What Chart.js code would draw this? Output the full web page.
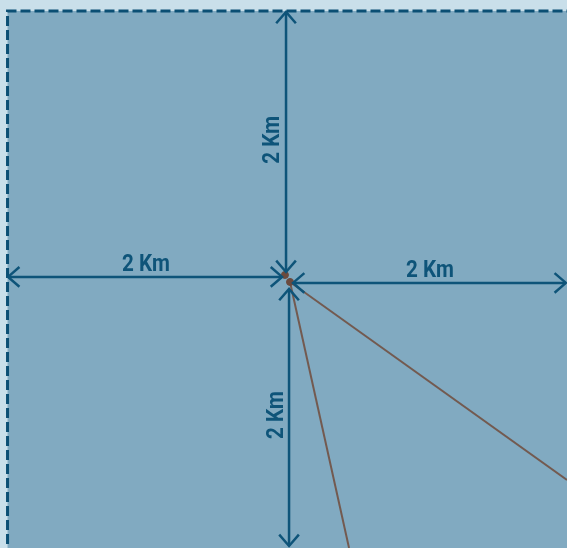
<!DOCTYPE html>
<html><head><meta charset="utf-8">
<script src="https://cdn.jsdelivr.net/npm/chart.js@4.4.1/dist/chart.umd.min.js"></script>
<style>html,body{margin:0;padding:0;background:#c9dfea;overflow:hidden}canvas{display:block}</style>
</head><body>
<canvas id="c" width="567" height="548"></canvas>
<script>
// Coordinates in km, origin at the site point
const xRange = [-2.095, 2.044];
const yRange = [-1.964, 2.036];
const regionTopLeft = [-2.04, 1.956];
const arrowUp    = [[-0.007, 0.051], [-0.007, 1.949]];
const arrowLeft  = [[-0.036, 0.015], [-2.036, 0.015]];
const arrowRight = [[0.044, -0.029], [2.036, -0.029]];
const arrowDown  = [[0.015, -0.073], [0.015, -1.949]];
const labelTexts = ['2 Km', '2 Km', '2 Km', '2 Km'];
const labelPos   = [[-0.109, 1.015], [-1.029, 0.109], [1.044, 0.066], [-0.080, -0.993]];
const labelRot   = [true, false, false, true];
const sitePoints = [[-0.015, 0.029], [0.022, -0.022]];
const rayA = [[0.022, -0.022], [2.044, -1.467]];
const rayB = [[0.022, -0.022], [0.453, -1.964]];

const BLUE = '#0e5479', BROWN = '#735a50';
const pts = a => a.map(p => ({x: p[0], y: p[1]}));
const arrows = [arrowUp, arrowLeft, arrowRight, arrowDown];

const bgPlugin = {
  id: 'bg',
  beforeDatasetsDraw(chart) {
    const {ctx, scales: {x, y}} = chart;
    const l = x.getPixelForValue(regionTopLeft[0]), t = y.getPixelForValue(regionTopLeft[1]);
    ctx.save();
    ctx.fillStyle = '#81aac1';
    ctx.fillRect(l, t, chart.width - l + 10, chart.height - t + 10);
    ctx.strokeStyle = '#0b4f74'; ctx.lineWidth = 3; ctx.setLineDash([10, 4]);
    ctx.beginPath(); ctx.moveTo(l, chart.height + 10); ctx.lineTo(l, t); ctx.lineTo(chart.width + 10, t); ctx.stroke();
    ctx.restore();
  },
  afterDatasetsDraw(chart) {
    const {ctx, scales: {x, y}} = chart;
    ctx.save();
    ctx.strokeStyle = BLUE; ctx.lineWidth = 2.5; ctx.lineCap = 'butt';
    arrows.forEach(a => {
      const p0 = [x.getPixelForValue(a[0][0]), y.getPixelForValue(a[0][1])];
      const p1 = [x.getPixelForValue(a[1][0]), y.getPixelForValue(a[1][1])];
      [[p0, p1], [p1, p0]].forEach(([tip, from]) => {
        const ang = Math.atan2(from[1] - tip[1], from[0] - tip[0]);
        const L = 15, s = Math.PI / 4.4;
        ctx.beginPath();
        ctx.moveTo(tip[0] + L * Math.cos(ang + s), tip[1] + L * Math.sin(ang + s));
        ctx.lineTo(tip[0], tip[1]);
        ctx.lineTo(tip[0] + L * Math.cos(ang - s), tip[1] + L * Math.sin(ang - s));
        ctx.stroke();
      });
    });
    ctx.fillStyle = BLUE;
    ctx.font = 'bold 24px Roboto, "DejaVu Sans", sans-serif';
    ctx.textAlign = 'center'; ctx.textBaseline = 'middle';
    labelTexts.forEach((t, i) => {
      const px = x.getPixelForValue(labelPos[i][0]), py = y.getPixelForValue(labelPos[i][1]);
      ctx.save(); ctx.translate(px, py);
      if (labelRot[i]) ctx.rotate(-Math.PI / 2);
      ctx.scale(0.86, 1);
      ctx.fillText(t, 0, 1);
      ctx.restore();
    });
    ctx.restore();
  }
};

new Chart(document.getElementById('c'), {
  type: 'scatter',
  data: {
    datasets: [
      ...arrows.map(a => ({data: pts(a), showLine: true, borderColor: BLUE, borderWidth: 2.5, pointRadius: 0, order: 2, clip: false})),
      {data: pts(rayA), showLine: true, borderColor: BROWN, borderWidth: 2, pointRadius: 0, order: 1, clip: false},
      {data: pts(rayB), showLine: true, borderColor: BROWN, borderWidth: 2, pointRadius: 0, order: 1, clip: false},
      {data: pts(sitePoints), showLine: false, backgroundColor: '#6b4a3e', borderColor: '#6b4a3e', pointRadius: 3.5, order: 0, clip: false}
    ]
  },
  options: {
    responsive: false, animation: false,
    layout: {padding: 0, autoPadding: false},
    plugins: {legend: {display: false}, tooltip: {enabled: false}},
    scales: {
      x: {type: 'linear', display: false, min: xRange[0], max: xRange[1]},
      y: {type: 'linear', display: false, min: yRange[0], max: yRange[1]}
    }
  },
  plugins: [bgPlugin]
});
</script>
</body></html>
